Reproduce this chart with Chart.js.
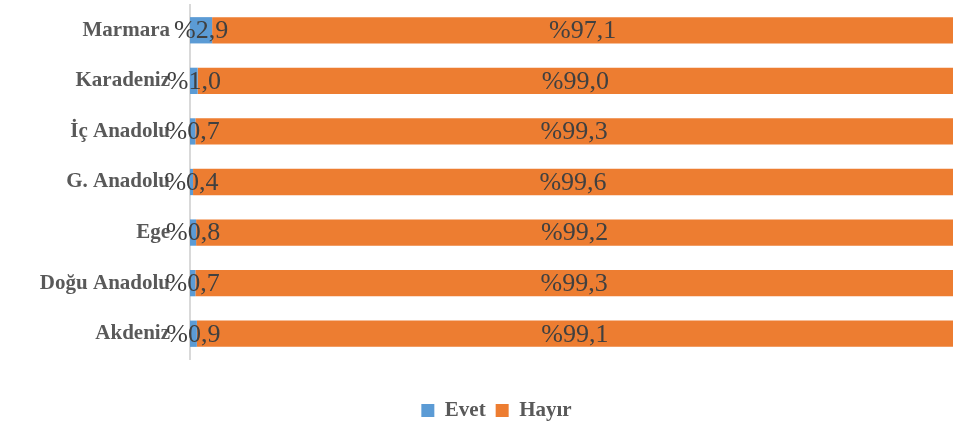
<!DOCTYPE html>
<html>
<head>
<meta charset="utf-8">
<script src="https://cdn.jsdelivr.net/npm/chart.js@4.4.0/dist/chart.umd.min.js"></script>
<style>
  html, body { margin: 0; padding: 0; background: #ffffff; }
  #wrap { width: 958px; height: 423px; position: relative; }
</style>
</head>
<body>
<div id="wrap"><canvas id="c" width="958" height="423"></canvas></div>
<script>
const categories = ["Marmara", "Karadeniz", "İç Anadolu", "G. Anadolu", "Ege", "Doğu Anadolu", "Akdeniz"];
const evetValues = [2.9, 1.0, 0.7, 0.4, 0.8, 0.7, 0.9];
const hayirValues = [97.1, 99.0, 99.3, 99.6, 99.2, 99.3, 99.1];
const seriesNames = ["Evet", "Hayır"];

const fmt = v => "%" + v.toFixed(1).replace(".", ",");

const labelPlugin = {
  id: 'barLabels',
  afterDatasetsDraw(chart) {
    const ctx = chart.ctx;
    ctx.save();
    ctx.font = '26px "Liberation Serif", "Times New Roman", serif';
    ctx.fillStyle = '#404040';
    ctx.textAlign = 'center';
    ctx.textBaseline = 'middle';
    chart.data.datasets.forEach((ds, di) => {
      const meta = chart.getDatasetMeta(di);
      meta.data.forEach((bar, i) => {
        const p = bar.getProps(['x', 'y', 'base'], true);
        const cx = (p.x + p.base) / 2;
        ctx.fillText(fmt(ds.data[i]), cx, p.y + 1);
      });
    });
    ctx.restore();
  }
};

new Chart(document.getElementById('c'), {
  type: 'bar',
  data: {
    labels: categories,
    datasets: [
      { label: seriesNames[0], data: evetValues, backgroundColor: '#5B9BD5', borderWidth: 0 },
      { label: seriesNames[1], data: hayirValues, backgroundColor: '#ED7D31', borderWidth: 0 }
    ]
  },
  options: {
    indexAxis: 'y',
    responsive: false,
    animation: false,
    devicePixelRatio: 1,
    categoryPercentage: 1,
    barPercentage: 0.52,
    layout: { padding: { left: 40, right: 5, top: 5, bottom: -8 } },
    scales: {
      x: {
        stacked: true, min: 0, max: 100,
        display: true,
        grid: { display: false },
        border: { display: false },
        ticks: { display: false },
        afterFit(s) { s.height = 31; }
      },
      y: {
        stacked: true,
        grid: { display: false, drawTicks: false },
        border: { display: true, color: '#d9d9d9', width: 2 },
        ticks: {
          color: '#595959',
          padding: 20,
          font: { family: '"Liberation Serif", "Times New Roman", serif', size: 21, weight: 'bold' }
        },
        afterFit(s) { s.width = 150; s.paddingTop = 0; s.paddingBottom = 0; }
      }
    },
    plugins: {
      legend: {
        position: 'bottom',
        labels: {
          boxWidth: 13, boxHeight: 13, padding: 10,
          color: '#595959',
          font: { family: '"Liberation Serif", "Times New Roman", serif', size: 21, weight: 'bold' }
        }
      },
      tooltip: { enabled: false }
    }
  },
  plugins: [labelPlugin]
});
</script>
</body>
</html>
